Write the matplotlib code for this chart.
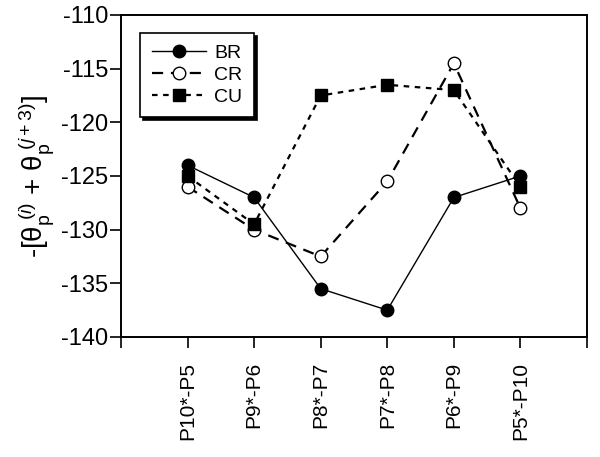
import matplotlib.pyplot as plt

plt.rcParams['font.family'] = ['Liberation Sans', 'DejaVu Sans']
plt.rcParams['mathtext.fontset'] = 'custom'
plt.rcParams['mathtext.rm'] = 'Liberation Sans'
plt.rcParams['mathtext.it'] = 'Liberation Sans:italic'
plt.rcParams['axes.unicode_minus'] = False

pairs = ['P10*-P5', 'P9*-P6', 'P8*-P7', 'P7*-P8', 'P6*-P9', 'P5*-P10']
br = [-124, -127, -135.5, -137.5, -127, -125]
cr = [-126, -130, -132.5, -125.5, -114.5, -128]
cu = [-125, -129.5, -117.5, -116.5, -117, -126]

x = list(range(1, len(pairs) + 1))

fig = plt.figure(figsize=(6, 4.57), dpi=100)
ax = fig.add_axes([121/600, 1 - 337/457, (587-121)/600, (337-15)/457])

ax.plot(x, br, '-', color='black', lw=1, marker='o', ms=9,
        mfc='black', mec='black', label='BR')
ax.plot(x, cr, color='black', lw=1.6, ls=(0, (5, 3.5)), marker='o', ms=9,
        mfc='white', mec='black', mew=1, label='CR')
ax.plot(x, cu, color='black', lw=1.6, ls=(0, (2.5, 2.5)), marker='s', ms=9,
        mfc='black', mec='black', label='CU')

ax.set_xlim(0, 7)
ax.set_ylim(-140, -110)
ax.set_xticks(range(0, 8))
ax.set_xticklabels([''] + pairs + [''], rotation=90, fontsize=15)
ax.set_yticks(range(-140, -109, 5))
ax.tick_params(axis='y', direction='out', length=8, width=1.2, labelsize=17, pad=1)
ax.tick_params(axis='x', direction='out', length=8, width=1.2, pad=10)
for s in ax.spines.values():
    s.set_linewidth(1.4)

ax.set_ylabel(r'-[$\mathrm{\theta}_{\mathrm{p}}^{\ (i)}$ + $\mathrm{\theta}_{\mathrm{p}}^{\ (j+3)}$]',
              fontsize=20, labelpad=4)

leg = ax.legend(loc='upper left', bbox_to_anchor=(0.02, 0.975), fontsize=14,
                fancybox=False, shadow={'color': 'black', 'alpha': 1},
                edgecolor='black', framealpha=1, handlelength=2.8,
                borderpad=0.6, labelspacing=0.22, handletextpad=0.4)
leg.get_frame().set_linewidth(1.2)

fig.savefig('out.png', dpi=100)
